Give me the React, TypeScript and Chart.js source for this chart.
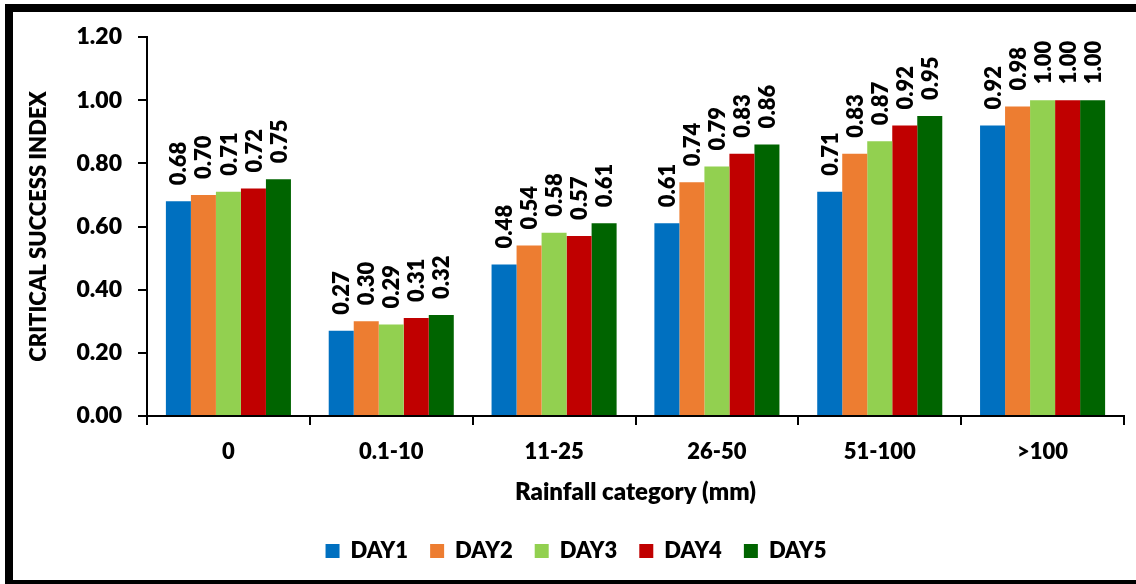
import React, { useEffect, useRef } from "react";
import { Chart, registerables } from "chart.js";

Chart.register(...registerables);

const categories = ["0", "0.1-10", "11-25", "26-50", "51-100", ">100"];
const seriesNames = ["DAY1", "DAY2", "DAY3", "DAY4", "DAY5"];
const day1 = [0.68, 0.27, 0.48, 0.61, 0.71, 0.92];
const day2 = [0.7, 0.3, 0.54, 0.74, 0.83, 0.98];
const day3 = [0.71, 0.29, 0.58, 0.79, 0.87, 1.0];
const day4 = [0.72, 0.31, 0.57, 0.83, 0.92, 1.0];
const day5 = [0.75, 0.32, 0.61, 0.86, 0.95, 1.0];
const seriesValues = [day1, day2, day3, day4, day5];
const seriesColors = ["#0070C0", "#ED7D31", "#92D050", "#C00000", "#006400"];
const yTitle = "CRITICAL SUCCESS INDEX";
const xTitle = "Rainfall category (mm)";

const FONT = "Lato, 'Open Sans', sans-serif";
const W = 800;

const barLabels = {
  id: "barLabels",
  afterDatasetsDraw(chart: any) {
    const ctx = chart.ctx;
    ctx.save();
    ctx.font = `${W} 22px ${FONT}`;
    ctx.fillStyle = "#000";
    ctx.textAlign = "left";
    ctx.textBaseline = "middle";
    chart.data.datasets.forEach((ds: any, i: number) => {
      const meta = chart.getDatasetMeta(i);
      meta.data.forEach((bar: any, j: number) => {
        const v = ds.data[j] as number;
        ctx.save();
        ctx.translate(bar.x + 1, bar.y - 16);
        ctx.rotate(-Math.PI / 2);
        ctx.fillText(v.toFixed(2), 0, 0);
        ctx.restore();
      });
    });
    ctx.restore();
  },
};

export default function App() {
  const ref = useRef<HTMLCanvasElement | null>(null);

  useEffect(() => {
    if (!ref.current) return;
    const chart = new Chart(ref.current, {
      type: "bar",
      data: {
        labels: categories,
        datasets: seriesNames.map((name, i) => ({
          label: name,
          data: seriesValues[i],
          backgroundColor: seriesColors[i],
          borderWidth: 0,
          categoryPercentage: 0.768,
          barPercentage: 1,
        })),
      },
      options: {
        responsive: false,
        animation: false,
        devicePixelRatio: 1,
        layout: { padding: { left: 28, right: 12, top: 37, bottom: 12 } },
        plugins: {
          legend: {
            position: "bottom",
            labels: {
              boxWidth: 14,
              boxHeight: 14,
              padding: 22,
              color: "#000",
              font: { family: FONT, size: 22, weight: W },
            },
          },
          tooltip: { enabled: false },
        },
        scales: {
          x: {
            grid: {
              display: true,
              drawOnChartArea: false,
              drawTicks: true,
              tickLength: 9,
              lineWidth: 2,
              color: "#000",
              offset: true,
            },
            border: { display: true, color: "#000", width: 2 },
            ticks: {
              padding: 14,
              color: "#000",
              maxRotation: 0,
              font: { family: FONT, size: 22, weight: W },
            },
            title: {
              display: true,
              text: xTitle,
              color: "#000",
              font: { family: FONT, size: 24, weight: W },
              padding: { top: 0, bottom: 11 },
            },
            afterFit: (s: any) => {
              s.height = 102;
            },
          },
          y: {
            min: 0,
            max: 1.2,
            ticks: {
              stepSize: 0.2,
              padding: 16,
              color: "#000",
              font: { family: FONT, size: 23, weight: W },
              callback: (v: any) => Number(v).toFixed(2),
            },
            grid: {
              display: true,
              drawOnChartArea: false,
              drawTicks: true,
              tickLength: 9,
              lineWidth: 2,
              color: "#000",
            },
            border: { display: true, color: "#000", width: 2 },
            title: {
              display: true,
              text: yTitle,
              color: "#000",
              font: { family: FONT, size: 22, weight: W, lineHeight: 1 },
              padding: { top: 0, bottom: 0 },
            },
            afterFit: (s: any) => {
              s.width = 119;
            },
          },
        },
      } as any,
      plugins: [barLabels],
    });
    return () => chart.destroy();
  }, []);

  return (
    <div
      style={{
        position: "fixed",
        left: 0,
        top: 0,
        width: 1136,
        height: 584,
        overflow: "hidden",
        background: "#fff",
      }}
    >
      <canvas
        ref={ref}
        width={1136}
        height={584}
        style={{ position: "absolute", left: 0, top: 0, width: 1136, height: 584, display: "block" }}
      />
      <div
        style={{
          position: "absolute",
          left: 5,
          top: 4,
          width: 1200,
          height: 584,
          border: "8px solid #000",
          boxSizing: "border-box",
          pointerEvents: "none",
        }}
      />
    </div>
  );
}
